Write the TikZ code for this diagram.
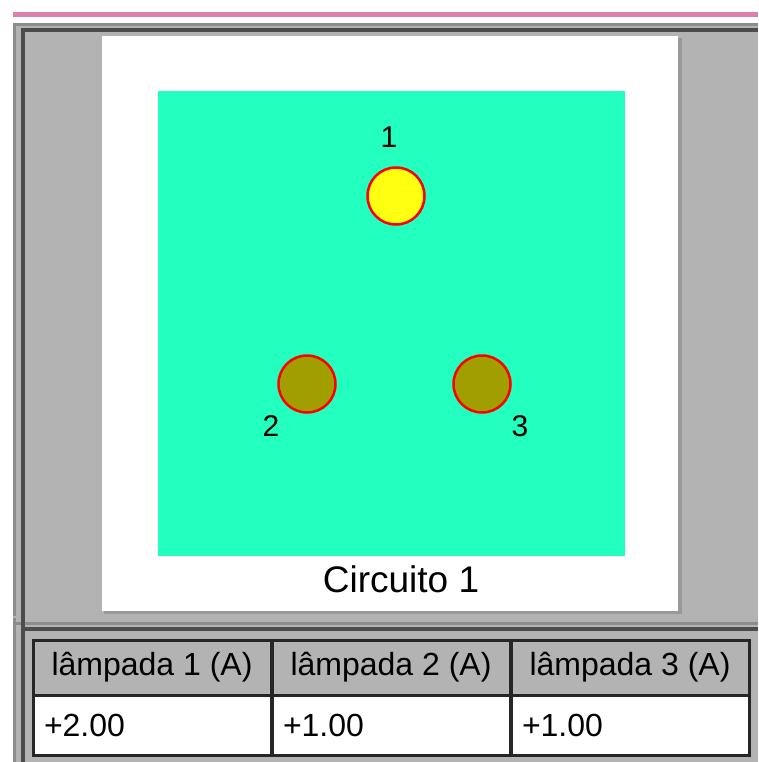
\documentclass[tikz,border=0pt]{standalone}
\usepackage{fontspec}
\setmainfont{Liberation Sans}
\usetikzlibrary{positioning}
\definecolor{barpink}{HTML}{DE80AC}
\definecolor{panelgray}{HTML}{B3B3B3}
\definecolor{boardgreen}{HTML}{22FFBF}
\definecolor{lampon}{HTML}{FFFF11}
\definecolor{lampoff}{HTML}{A09E00}
\tikzset{
  lamp/.style={circle, draw=red, line width=2.5pt, minimum size=57pt, inner sep=0pt},
  lamplbl/.style={font=\fontsize{30}{30}\selectfont},
  headcell/.style={draw=black!85, line width=3pt, fill=panelgray, minimum width=238pt, minimum height=55pt, inner sep=0pt, outer sep=0pt, font=\fontsize{32}{32}\selectfont},
  valcell/.style={draw=black!85, line width=3pt, fill=white, minimum width=238pt, minimum height=60pt, inner sep=0pt, outer sep=0pt, font=\fontsize{32}{32}\selectfont},
}
\begin{document}
\begin{tikzpicture}[x=1pt, y=-1pt, line join=miter]
  \useasboundingbox (0,0) rectangle (758,762);
  % top bar
  \fill[barpink] (13,12) rectangle (758,17);
  % upper panel
  \fill[panelgray] (13,23) rectangle (758,622);
  \draw[black!45, line width=3pt] (14.5,622) -- (14.5,24.5) -- (758,24.5);
  \draw[black!70, line width=4pt] (23,622) -- (23,30) -- (758,30);
  \draw[black!30, line width=2pt] (13,617) -- (758,617);
  % lower panel
  \fill[panelgray] (13,622) rectangle (758,762);
  \draw[black!45, line width=3pt] (14.5,762) -- (14.5,623.5) -- (758,623.5);
  \draw[black!70, line width=4pt] (23,762) -- (23,629) -- (758,629);
  \draw[black!70, line width=4pt] (23,600) -- (23,640);
  % white sheet and board
  \fill[black!40] (104,38) rectangle (682,614);
  \fill[white] (102,36) rectangle (678,611);
  \fill[boardgreen] (158,91) rectangle (625,556);
  \node[font=\fontsize{37}{37}\selectfont] (title) at (401,579) {Circuito 1};
  % lamps
  \node[lamp, fill=lampon] (lamp1) at (396,196) {};
  \node[lamp, fill=lampoff] (lamp2) at (307,384) {};
  \node[lamp, fill=lampoff] (lamp3) at (482,384) {};
  \foreach \n/\p in {1/{389,137}, 2/{271,426}, 3/{520,426}} {
    \node[lamplbl] (lbl\n) at (\p) {\n};
  }
  % readings table
  \foreach \i/\v/\x in {1/+2.00/152, 2/+1.00/391, 3/+1.00/630} {
    \node[headcell] (head\i) at (\x,667.5) {lâmpada \i\ (A)};
    \node[valcell, below=0pt of head\i, text width=216pt, align=left] (val\i) {\v};
  }
\end{tikzpicture}
\end{document}
